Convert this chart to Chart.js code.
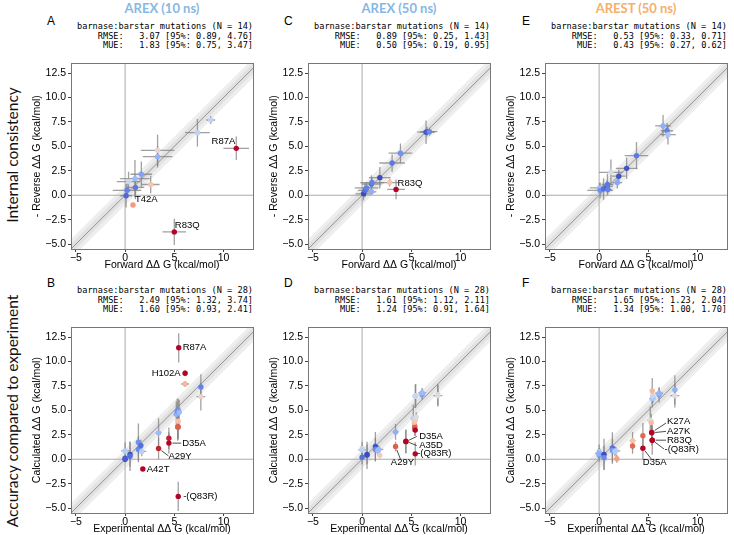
<!DOCTYPE html>
<html>
<head>
<meta charset="utf-8">
<script src="https://cdn.jsdelivr.net/npm/chart.js@4.4.0/dist/chart.umd.min.js"></script>
<style>
  body { margin: 0; background: #fff; }
  #page { position: relative; width: 734px; height: 535px; overflow: hidden; font-family: "Liberation Sans", Arial, sans-serif; color: #000; }
  canvas { position: absolute; }
  .stats { position: absolute; font-family: "DejaVu Sans Mono", monospace; font-size: 8.6px; line-height: 9.5px; text-align: right; white-space: pre; }
  .letter { position: absolute; font-size: 12px; line-height: 14px; }
  .coltitle { position: absolute; width: 200px; text-align: center; font-family: Lato, sans-serif; font-weight: bold; font-size: 13px; line-height: 16px; }
  .rowlabel { position: absolute; width: 300px; height: 20px; line-height: 20px; text-align: center; font-family: Lato, sans-serif; font-size: 15.5px; color: #111; transform: rotate(-90deg); white-space: nowrap; }
</style>
</head>
<body>
<div id="page">
  <div class="coltitle" style="left:62px; top:0px; color:#86b8e4;">AREX (10 ns)</div>
  <div class="coltitle" style="left:299px; top:0px; color:#86b8e4;">AREX (50 ns)</div>
  <div class="coltitle" style="left:536px; top:0px; color:#f5b06a;">AREST (50 ns)</div>

  <div class="rowlabel" style="left:-138px; top:145px;">Internal consistency</div>
  <div class="rowlabel" style="left:-138px; top:401px;">Accuracy compared to experiment</div>

  <div class="letter" style="left:47px; top:14px;">A</div>
  <div class="letter" style="left:284px; top:14px;">C</div>
  <div class="letter" style="left:522px; top:14px;">E</div>
  <div class="letter" style="left:47px; top:276px;">B</div>
  <div class="letter" style="left:284px; top:276px;">D</div>
  <div class="letter" style="left:522px; top:276px;">F</div>

  <div class="stats" style="right:481px; top:22px;">barnase:barstar mutations (N = 14)
RMSE:   3.07 [95%: 0.89, 4.76]
MUE:   1.83 [95%: 0.75, 3.47]</div>
  <div class="stats" style="right:244px; top:22px;">barnase:barstar mutations (N = 14)
RMSE:   0.89 [95%: 0.25, 1.43]
MUE:   0.50 [95%: 0.19, 0.95]</div>
  <div class="stats" style="right:7px; top:22px;">barnase:barstar mutations (N = 14)
RMSE:   0.53 [95%: 0.33, 0.71]
MUE:   0.43 [95%: 0.27, 0.62]</div>
  <div class="stats" style="right:481px; top:286px;">barnase:barstar mutations (N = 28)
RMSE:   2.49 [95%: 1.32, 3.74]
MUE:   1.60 [95%: 0.93, 2.41]</div>
  <div class="stats" style="right:244px; top:286px;">barnase:barstar mutations (N = 28)
RMSE:   1.61 [95%: 1.12, 2.11]
MUE:   1.24 [95%: 0.91, 1.64]</div>
  <div class="stats" style="right:7px; top:286px;">barnase:barstar mutations (N = 28)
RMSE:   1.65 [95%: 1.23, 2.04]
MUE:   1.34 [95%: 1.00, 1.70]</div>
</div>

<script>
// ---- data (kcal/mol) ----

// top row: forward vs -reverse ddG, 14 mutations per panel
const fwdA    = [0.1, 0.2, 0.35, 1.0, 1.05, 1.65, 2.6, 3.3, 3.3, 7.35, 8.7, 11.3, 5.0, 0.8];
const revA    = [-0.05, 0.5, 1.4, 1.7, 0.8, 2.15, 1.1, 4.6, 3.95, 6.4, 7.7, 4.8, -3.75, -1.0];
const fwdErrA = [0.6, 1.45, 1.2, 1.5, 0.9, 1.1, 0.9, 1.7, 1.5, 1.25, 0.45, 1.3, 1.2, 0.2];
const revErrA = [1.2, 0.8, 1.0, 1.9, 1.2, 1.3, 0.9, 1.6, 1.1, 1.4, 0.4, 1.2, 1.35, 0.2];

const fwdC    = [0.15, 0.3, 0.45, 0.95, 1.0, 0.95, 1.8, 2.8, 3.45, 3.05, 3.9, 6.5, 6.6, 6.85];
const revC    = [0.15, 0.5, 0.75, 1.15, 1.3, 0.35, 1.8, 1.3, 0.6, 3.3, 4.3, 6.45, 6.5, 6.5];
const fwdErrC = [0.8, 0.7, 1.2, 1.0, 1.2, 0.5, 1.1, 0.9, 0.9, 1.3, 1.2, 0.9, 0.7, 0.8];
const revErrC = [0.7, 0.7, 0.6, 0.9, 0.5, 0.3, 1.1, 0.4, 1.0, 0.9, 1.0, 1.2, 0.5, 0.4];

const fwdE    = [0.05, 0.1, 0.45, 0.8, 0.85, 0.9, 1.2, 1.85, 2.0, 2.8, 3.8, 6.5, 6.9, 7.0];
const revE    = [0.75, 0.5, 0.65, 0.9, 1.1, 0.6, 2.35, 1.3, 1.95, 2.75, 4.05, 7.1, 6.6, 6.2];
const fwdErrE = [1.0, 1.3, 0.6, 0.6, 0.6, 0.4, 1.2, 0.5, 0.7, 1.1, 1.2, 0.8, 0.6, 0.8];
const revErrE = [0.5, 0.8, 1.1, 0.6, 1.1, 0.4, 1.3, 0.6, 0.7, 1.1, 1.4, 1.1, 0.8, 1.0];

// bottom row: experimental vs calculated ddG, 28 mutations
const expDDG = [0.0, 0.0, 0.0, 0.5, 0.5, 1.35, 1.35, 1.6, 1.7, 1.8, 3.4, 3.4, 4.45, 4.45,
                5.2, 5.35, 5.3, 5.35, 5.4, 5.4, 5.4, 5.5, 5.45, 5.4, 6.1, 6.1, 7.7, 7.7];
const expErr = [0.1, 0.1, 0.4, 0.1, 0.1, 0.2, 0.2, 0.2, 0.45, 0.1, 0.3, 0.1, 0.1, 0.1,
                0.3, 0.1, 0.1, 0.1, 0.3, 0.1, 0.1, 0.1, 0.1, 0.1, 0.1, 0.4, 0.2, 0.45];

const calcB    = [0.0, 0.1, 0.85, 0.5, 0.3, 1.75, 1.0, 1.4, 0.8, -1.0, 2.7, 1.1, 2.15, 1.65,
                  4.6, 3.3, 4.9, 3.3, 5.0, 3.3, 3.9, 4.8, 11.4, -3.8, 8.8, 7.7, 7.4, 6.4];
const calcErrB = [0.3, 0.3, 0.9, 1.3, 1.5, 1.9, 1.3, 0.6, 0.5, 0.2, 1.5, 1.1, 1.1, 1.1,
                  1.3, 1.4, 1.3, 1.3, 1.2, 1.2, 0.8, 1.3, 1.5, 1.5, 0.3, 0.3, 1.3, 1.4];

const calcD    = [0.2, 1.1, 0.95, 0.4, 0.5, 1.3, 1.0, 0.9, 1.0, 0.4, 2.8, 1.3, 1.85, 1.8,
                  4.2, 3.42, 3.75, 3.25, 6.45, 2.98, 4.0, 4.3, 6.5, 0.55, 6.6, 6.8, 6.6, 6.5];
const calcErrD = [0.7, 0.7, 0.5, 1.4, 1.0, 1.5, 1.2, 0.5, 0.4, 0.3, 0.8, 0.5, 1.2, 1.2,
                  1.4, 1.0, 0.5, 0.5, 1.2, 0.6, 0.5, 0.5, 1.2, 1.2, 0.5, 0.5, 1.1, 1.1];

const calcF    = [0.8, 0.45, 0.6, 0.5, 0.15, 1.15, 0.9, 0.8, 0.85, 0.05, 1.9, 1.35, 2.4, 1.13,
                  4.0, 2.75, 3.75, 2.7, 6.2, 1.95, 7.0, 6.3, 6.5, 1.95, 6.6, 6.75, 7.1, 6.5];
const calcErrF = [0.7, 0.7, 0.5, 1.6, 1.2, 1.6, 1.2, 0.5, 0.4, 0.4, 0.9, 0.8, 1.3, 1.2,
                  1.4, 1.0, 0.9, 1.3, 0.9, 0.5, 1.3, 0.5, 0.5, 1.5, 0.8, 0.5, 1.5, 1.2];

const xTicks = [-5, 0, 5, 10];
const yTicks = [-5, -2.5, 0, 2.5, 5, 7.5, 10, 12.5];

// ---- layout ----
const page = document.getElementById('page');
const boxLeft = [71, 308, 545];
const boxTop = [61, 325];
const BOX_W = 182, BOX_H = 188;
const Y_AXIS_W = 44, X_AXIS_H = 22, PAD = 6;
const X_MIN = -5.5, X_MAX = 13.0, Y_MIN = -5.5, Y_MAX = 13.5;
const FONT = '"Liberation Sans", Arial, sans-serif';

// matplotlib coolwarm, coloured by |x - y|
function coolwarm(t) {
    const stops = [[59,76,192],[98,130,234],[141,176,254],[184,208,249],[221,221,221],
                   [245,196,173],[244,154,123],[222,96,77],[180,4,38]];
    const p = Math.max(0, Math.min(1, t)) * (stops.length - 1);
    const i = Math.min(Math.floor(p), stops.length - 2);
    const f = p - i;
    const c = stops[i].map((v, k) => Math.round(v + (stops[i + 1][k] - v) * f));
    return `rgb(${c[0]},${c[1]},${c[2]})`;
}

function fmt(v, digits) {
    return v.toFixed(digits).replace('-', '\u2212');
}

const errorBars = {
    id: 'errorBars',
    beforeDatasetDraw(chart, args) {
        const ds = chart.data.datasets[args.index];
        if (!ds.xErr) return;
        const {ctx, chartArea: a, scales: {x, y}} = chart;
        ctx.save();
        ctx.beginPath();
        ctx.rect(a.left, a.top, a.width, a.height);
        ctx.clip();
        ctx.strokeStyle = 'rgba(128,128,128,0.75)';
        ctx.lineWidth = 1.3;
        ds.data.forEach((p, i) => {
            const px = x.getPixelForValue(p.x), py = y.getPixelForValue(p.y);
            ctx.beginPath();
            ctx.moveTo(x.getPixelForValue(p.x - ds.xErr[i]), py);
            ctx.lineTo(x.getPixelForValue(p.x + ds.xErr[i]), py);
            ctx.moveTo(px, y.getPixelForValue(p.y - ds.yErr[i]));
            ctx.lineTo(px, y.getPixelForValue(p.y + ds.yErr[i]));
            ctx.stroke();
        });
        ctx.restore();
    }
};
Chart.register(errorBars);

function makePanel(o) {
    const left = boxLeft[o.col] - Y_AXIS_W, top = boxTop[o.row] - PAD;
    const w = BOX_W + Y_AXIS_W + PAD, h = BOX_H + PAD + X_AXIS_H;
    const cv = document.createElement('canvas');
    cv.width = w; cv.height = h;
    cv.style.left = left + 'px'; cv.style.top = top + 'px';
    cv.style.width = w + 'px'; cv.style.height = h + 'px';
    page.appendChild(cv);

    const pts = o.xs.map((x, i) => ({x: x, y: o.ys[i]}));
    const colors = pts.map(p => coolwarm(Math.abs(p.x - p.y) / 2.4));
    const diag = d => [{x: -20, y: -20 + d}, {x: 30, y: 30 + d}];
    const line = (data, extra) => Object.assign({data: data, showLine: true, pointRadius: 0, borderWidth: 0, fill: false}, extra);

    const boxAndNotes = {
        id: 'boxAndNotes',
        afterDatasetsDraw(chart) {
            const {ctx, chartArea: a, scales: {x, y}} = chart;
            ctx.save();
            ctx.strokeStyle = '#777';
            ctx.lineWidth = 1;
            ctx.strokeRect(Math.round(a.left) + 0.5, Math.round(a.top) + 0.5, Math.round(a.width), Math.round(a.height));
            ctx.font = '9.5px ' + FONT;
            ctx.fillStyle = '#000';
            ctx.strokeStyle = '#222';
            ctx.lineWidth = 0.8;
            o.notes.forEach(n => {
                const p = pts[n.i];
                const px = x.getPixelForValue(p.x), py = y.getPixelForValue(p.y);
                if (n.ldx !== undefined) {
                    const ex = x.getPixelForValue(p.x + n.ldx), ey = y.getPixelForValue(p.y + n.ldy);
                    const len = Math.hypot(ex - px, ey - py);
                    ctx.beginPath();
                    ctx.moveTo(px + (ex - px) / len * 3.5, py + (ey - py) / len * 3.5);
                    ctx.lineTo(ex, ey);
                    ctx.stroke();
                }
                ctx.textAlign = n.align || 'left';
                ctx.textBaseline = n.base || 'middle';
                ctx.fillText(n.text, x.getPixelForValue(p.x + n.dx), y.getPixelForValue(p.y + n.dy));
            });
            ctx.restore();
        }
    };

    const tickFont = {family: FONT, size: 10.5};
    new Chart(cv, {
        type: 'scatter',
        data: {
            datasets: [
                line(diag(1), {order: 10}),
                line(diag(-1), {order: 10, fill: '-1', backgroundColor: '#eeeeee'}),
                line(diag(0.5), {order: 9}),
                line(diag(-0.5), {order: 9, fill: '-1', backgroundColor: '#e2e2e2'}),
                line(diag(0), {order: 8, borderWidth: 0.6, borderColor: 'rgba(0,0,0,0.6)'}),
                line([{x: 0, y: -20}, {x: 0, y: 30}], {order: 7, borderWidth: 1, borderColor: '#aaaaaa'}),
                line([{x: -20, y: 0}, {x: 30, y: 0}], {order: 7, borderWidth: 1, borderColor: '#aaaaaa'}),
                {
                    data: pts,
                    xErr: o.xErr,
                    yErr: o.yErr,
                    order: 0,
                    pointRadius: 2.7,
                    pointBackgroundColor: colors,
                    pointBorderColor: colors,
                    pointBorderWidth: 0
                }
            ]
        },
        options: {
            responsive: false,
            animation: false,
            events: [],
            layout: {padding: {left: 0, top: PAD, right: PAD, bottom: 0}},
            plugins: {legend: {display: false}, tooltip: {enabled: false}},
            scales: {
                x: {
                    type: 'linear', min: X_MIN, max: X_MAX,
                    afterFit: s => { s.height = X_AXIS_H; },
                    afterBuildTicks: s => { s.ticks = xTicks.map(v => ({value: v})); },
                    ticks: {color: '#000', font: tickFont, padding: 0, maxRotation: 0, callback: v => fmt(v, 0)},
                    grid: {drawOnChartArea: false, drawTicks: true, tickLength: 3, tickColor: '#444'},
                    border: {display: false},
                    title: {display: true, text: o.xTitle, color: '#000', font: tickFont, padding: 0}
                },
                y: {
                    type: 'linear', min: Y_MIN, max: Y_MAX,
                    afterFit: s => { s.width = Y_AXIS_W; },
                    afterBuildTicks: s => { s.ticks = yTicks.map(v => ({value: v})); },
                    ticks: {color: '#000', font: tickFont, padding: 2, callback: v => fmt(v, 1)},
                    grid: {drawOnChartArea: false, drawTicks: true, tickLength: 3, tickColor: '#444'},
                    border: {display: false},
                    title: {display: true, text: o.yTitle, color: '#000', font: tickFont, padding: {top: 4, bottom: 0}}
                }
            }
        },
        plugins: [boxAndNotes]
    });
}

const FWD = 'Forward \u0394\u0394 G (kcal/mol)';
const REV = '- Reverse \u0394\u0394 G (kcal/mol)';
const EXP = 'Experimental \u0394\u0394 G (kcal/mol)';
const CALC = 'Calculated \u0394\u0394 G (kcal/mol)';

makePanel({col: 0, row: 0, xs: fwdA, ys: revA, xErr: fwdErrA, yErr: revErrA, xTitle: FWD, yTitle: REV,
    notes: [
        {i: 11, text: 'R87A', dx: -0.1, dy: 0.2, align: 'right', base: 'bottom'},
        {i: 13, text: 'T42A', dx: 0.2, dy: 0.05, base: 'bottom'},
        {i: 12, text: 'R83Q', dx: 0.05, dy: 0.15, base: 'bottom'}
    ]});
makePanel({col: 1, row: 0, xs: fwdC, ys: revC, xErr: fwdErrC, yErr: revErrC, xTitle: FWD, yTitle: REV,
    notes: [
        {i: 8, text: 'R83Q', dx: 0.15, dy: 0.1, base: 'bottom'}
    ]});
makePanel({col: 2, row: 0, xs: fwdE, ys: revE, xErr: fwdErrE, yErr: revErrE, xTitle: FWD, yTitle: REV,
    notes: []});
makePanel({col: 0, row: 1, xs: expDDG, ys: calcB, xErr: expErr, yErr: calcErrB, xTitle: EXP, yTitle: CALC,
    notes: [
        {i: 22, text: 'R87A', dx: 0.4, dy: 0},
        {i: 24, text: 'H102A', dx: -0.45, dy: 0, align: 'right'},
        {i: 13, text: 'D35A', dx: 1.35, dy: 0, ldx: 1.25, ldy: 0},
        {i: 11, text: 'A29Y', dx: 1.0, dy: -0.83, ldx: 1.0, ldy: -0.75},
        {i: 9, text: 'A42T', dx: 0.4, dy: 0, ldx: 0.35, ldy: 0},
        {i: 23, text: '-(Q83R)', dx: 0.5, dy: 0}
    ]});
makePanel({col: 1, row: 1, xs: expDDG, ys: calcD, xErr: expErr, yErr: calcErrD, xTitle: EXP, yTitle: CALC,
    notes: [
        {i: 13, text: 'D35A', dx: 1.35, dy: 0.53, ldx: 1.1, ldy: 0.53},
        {i: 12, text: 'A35D', dx: 1.35, dy: -0.48, ldx: 1.1, ldy: -0.45},
        {i: 23, text: '-(Q83R)', dx: 0.2, dy: 0},
        {i: 11, text: 'A29Y', dx: 0.7, dy: -1.64, align: 'center', ldx: 0.5, ldy: -1.3}
    ]});
makePanel({col: 2, row: 1, xs: expDDG, ys: calcF, xErr: expErr, yErr: calcErrF, xTitle: EXP, yTitle: CALC,
    notes: [
        {i: 15, text: 'K27A', dx: 1.55, dy: 1.1, ldx: 1.45, ldy: 0.95},
        {i: 17, text: 'A27K', dx: 1.55, dy: 0.18, ldx: 1.45, ldy: 0.15},
        {i: 19, text: 'R83Q', dx: 1.5, dy: 0, ldx: 1.4, ldy: 0},
        {i: 23, text: '-(Q83R)', dx: 1.25, dy: -0.92, ldx: 1.2, ldy: -0.9},
        {i: 13, text: 'D35A', dx: 1.2, dy: -1.47, align: 'center', ldx: 0.85, ldy: -1.1}
    ]});
</script>
</body>
</html>
